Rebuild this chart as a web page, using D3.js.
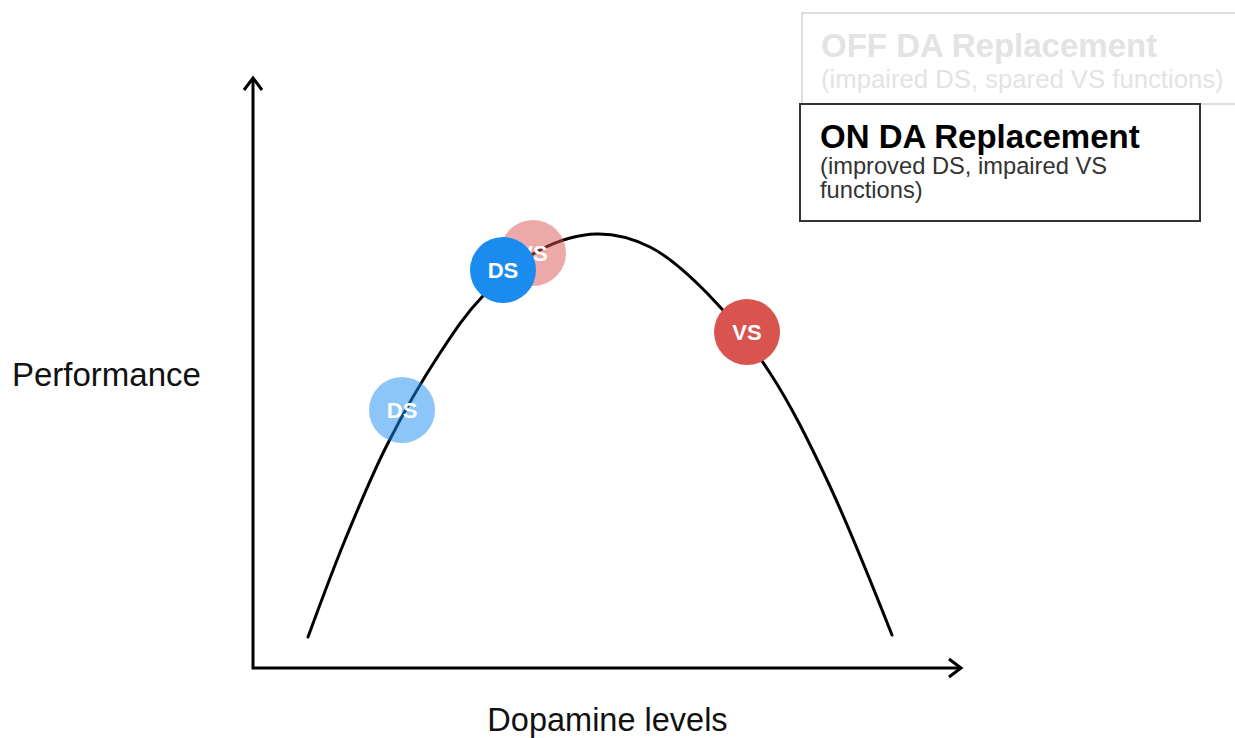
<!DOCTYPE html>
<html>
<head>
<meta charset="utf-8">
<script src="https://cdn.jsdelivr.net/npm/d3@7"></script>
<style>
  html, body { margin: 0; padding: 0; background: #fff; }
  svg { display: block; font-family: "Liberation Sans", Arial, Helvetica, sans-serif; }
</style>
</head>
<body>
<svg id="chart" width="1235" height="738"></svg>
<script>
// ---- data ----
const curveDopamine = [7.76, 12.98, 18.90, 26.38, 32.30, 40.48, 48.52, 55.99, 64.03, 72.92, 80.96, 90.13];
const curvePerformance = [5.25, 21.66, 37.73, 53.30, 62.77, 70.73, 73.43, 71.24, 63.45, 49.92, 31.81, 5.58];

const markerLabels = ["VS", "DS", "DS", "VS"];
const markerState = ["off", "off", "on", "on"];
const markerDopamine = [39.49, 21.02, 35.26, 69.68];
const markerPerformance = [70.22, 43.65, 67.34, 56.85];

const xAxisLabel = "Dopamine levels";
const yAxisLabel = "Performance";

const legendTitles = ["OFF DA Replacement", "ON DA Replacement"];
const legendSubtitles = [["(impaired DS, spared VS functions)"], ["(improved DS, impaired VS", "functions)"]];

// ---- drawing ----
const svg = d3.select("#chart");
const x = d3.scaleLinear().domain([0, 100]).range([253, 962]);
const y = d3.scaleLinear().domain([0, 100]).range([668, 77]);
const colorOf = d3.scaleOrdinal().domain(["DS", "VS"]).range(["#1a8cf0", "#d9534f"]);

// axes
const x0 = x.range()[0], x1 = x.range()[1];
const y0 = y.range()[0], y1 = y.range()[1];
const axes = svg.append("g").attr("stroke", "#000").attr("stroke-width", 3).attr("fill", "none");
axes.append("path").attr("d", `M${x0},${y1 + 2}V${y0}H${x1 - 2}`).attr("stroke-linejoin", "miter");
axes.append("path").attr("d", `M${x0 - 9},${y1 + 13}L${x0},${y1 + 1}L${x0 + 9},${y1 + 13}`).attr("stroke-linejoin", "miter");
axes.append("path").attr("d", `M${x1 - 13},${y0 - 9}L${x1 - 1},${y0}L${x1 - 13},${y0 + 9}`).attr("stroke-linejoin", "miter");

// axis labels
svg.append("text").attr("x", 12).attr("y", 386).attr("font-size", 33).attr("fill", "#111").text(yAxisLabel);
svg.append("text").attr("x", (x0 + x1) / 2).attr("y", 731).attr("text-anchor", "middle").attr("font-size", 32.5).attr("fill", "#111").text(xAxisLabel);

// curve
const pts = curveDopamine.map((d, i) => [x(d), y(curvePerformance[i])]);
svg.append("path")
  .attr("d", d3.line().curve(d3.curveCatmullRom.alpha(0.5))(pts))
  .attr("fill", "none").attr("stroke", "#000").attr("stroke-width", 3).attr("stroke-linecap", "round");

// markers
const markers = markerLabels.map((l, i) => ({ label: l, state: markerState[i], cx: x(markerDopamine[i]), cy: y(markerPerformance[i]) }));
const mg = svg.selectAll("g.marker").data(markers).join("g").attr("class", "marker")
  .attr("transform", d => `translate(${d.cx},${d.cy})`);
mg.append("circle").attr("r", 33)
  .attr("fill", d => colorOf(d.label))
  .attr("fill-opacity", d => d.state === "off" ? 0.5 : 1);
mg.append("text").attr("text-anchor", "middle").attr("dy", "0.36em")
  .attr("font-size", 22).attr("font-weight", "bold").attr("fill", "#fff")
  .text(d => d.label);

// legend boxes
const lg = svg.append("g");
lg.append("rect").attr("x", 802).attr("y", 13).attr("width", 440).attr("height", 91)
  .attr("fill", "#fff").attr("stroke", "#d2d2d2").attr("stroke-width", 1.5);
lg.append("text").attr("x", 821).attr("y", 57).attr("font-size", 33).attr("font-weight", "bold").attr("fill", "#e3e3e3").text(legendTitles[0]);
lg.append("text").attr("x", 821).attr("y", 88).attr("font-size", 25.7).attr("fill", "#e3e3e3").text(legendSubtitles[0][0]);

lg.append("rect").attr("x", 800).attr("y", 104).attr("width", 400).attr("height", 117)
  .attr("fill", "#fff").attr("stroke", "#333").attr("stroke-width", 2);
lg.append("text").attr("x", 820).attr("y", 148).attr("font-size", 33).attr("font-weight", "bold").attr("fill", "#000").text(legendTitles[1]);
legendSubtitles[1].forEach((t, i) => {
  lg.append("text").attr("x", 820).attr("y", 174 + i * 24).attr("font-size", 23.7).attr("fill", "#333").text(t);
});
</script>
</body>
</html>
